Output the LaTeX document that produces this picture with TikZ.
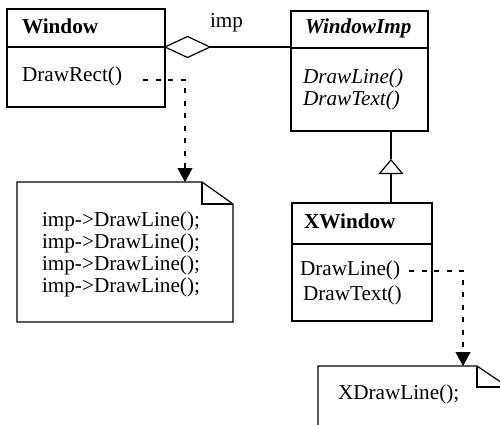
\documentclass[tikz,border=0pt]{standalone}
\usepackage{fontspec}
\setmainfont{Liberation Serif}
\usetikzlibrary{arrows.meta,shapes.geometric}
\begin{document}
\begin{tikzpicture}[x=1pt,y=-1pt,line width=1.2pt,
  every node/.style={inner sep=0pt,outer sep=0pt},
  txt/.style={anchor=base west,font=\fontsize{21.2}{24}\selectfont},
  classbox/.style={draw,anchor=north west,rectangle},
  notearea/.style={anchor=north west,rectangle},
  dep/.style={dash pattern=on 5pt off 7.5pt,-{Triangle[length=14pt,width=15pt]}},
  plain/.style={line width=1.2pt}]
\useasboundingbox (0,0) rectangle (500,424);
\clip (0,0) rectangle (500,424);
% Window class
\node[classbox,minimum width=158pt,minimum height=98pt] (win) at (7,9) {};
\draw[plain] (win.west |- 0,47) -- (win.east |- 0,47);
\node[txt,font=\fontsize{21.2}{24}\selectfont\bfseries] (winname) at (22,33) {Window};
\node[txt] (drawrect) at (22,81) {DrawRect()};
% WindowImp class
\node[classbox,minimum width=137pt,minimum height=120pt] (wimp) at (291,11) {};
\draw[plain] (wimp.west |- 0,48) -- (wimp.east |- 0,48);
\node[txt,font=\fontsize{21.2}{24}\selectfont\bfseries\itshape] (wimpname) at (305,33) {WindowImp};
\node[txt,font=\fontsize{21.2}{24}\selectfont\itshape] (wimpl) at (303,83) {DrawLine()};
\node[txt,font=\fontsize{21.2}{24}\selectfont\itshape] (wimpt) at (303,105) {DrawText()};
% XWindow class
\node[classbox,minimum width=140pt,minimum height=118pt] (xw) at (292,203) {};
\draw[plain] (xw.west |- 0,244) -- (xw.east |- 0,244);
\node[txt,font=\fontsize{21.2}{24}\selectfont\bfseries] (xwname) at (304,228) {XWindow};
\node[txt] (xwl) at (300,275) {DrawLine()};
\node[txt] (xwt) at (303,300) {DrawText()};
% aggregation
\node[draw,diamond,fill=white,minimum width=45pt,minimum height=21pt] (dia) at (187.5,47) {};
\draw (dia.east) -- (dia.east -| wimp.west);
\node[txt] (implabel) at (210,27) {imp};
% inheritance
\coordinate (tip) at (391,159);
\draw[-{Triangle[open,length=15pt,width=25pt]}] (xw.north -| tip) -- (tip);
\draw (tip) -- (wimp.south -| tip);
% note 1
\node[notearea,minimum width=216pt,minimum height=140pt] (n1) at (17,182) {};
\draw (n1.north west) -- (202,182) -- (n1.north east |- 0,204) -- (n1.south east) -- (n1.south west) -- cycle;
\draw (202,182) -- (202,204) -- (n1.north east |- 0,204);
\node[txt] (c1) at (42,226) {imp->DrawLine();};
\node[txt] (c2) at (42,248) {imp->DrawLine();};
\node[txt] (c3) at (42,270) {imp->DrawLine();};
\node[txt] (c4) at (42,292) {imp->DrawLine();};
% note 2
\node[notearea,minimum width=213pt,minimum height=80pt] (n2) at (318,366) {};
\draw (n2.south west) -- (n2.north west) -- (477,366) -- (508,387) -- (508,446);
\draw (477,366) -- (477,387) -- (508,387);
\node[txt] (x1) at (338,399) {XDrawLine();};
% dependency connectors
\coordinate (d1) at (143,80);
\draw[dep] (d1) -| (n1.north west -| 185,0);
\coordinate (d2) at (409,271);
\draw[dep] (d2) -| (n2.north west -| 463,0);
\end{tikzpicture}
\end{document}
